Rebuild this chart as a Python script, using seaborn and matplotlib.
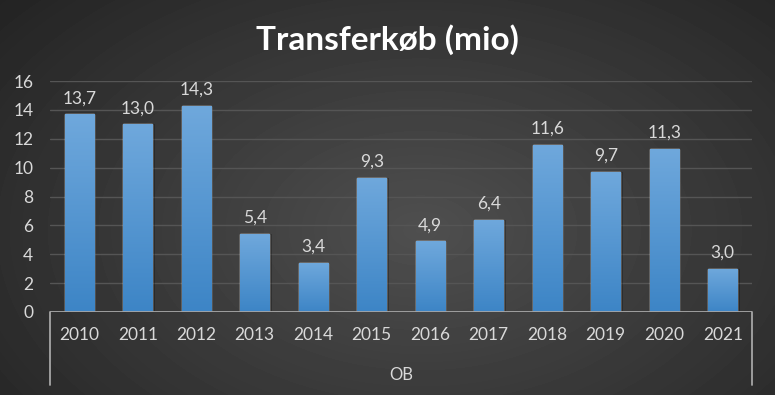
import numpy as np
import pandas as pd
import seaborn as sns
import matplotlib.pyplot as plt
from matplotlib.lines import Line2D
from matplotlib.colors import LinearSegmentedColormap

aar = ["2010", "2011", "2012", "2013", "2014", "2015", "2016", "2017", "2018", "2019", "2020", "2021"]
beloeb = [13.7, 13.0, 14.3, 5.4, 3.4, 9.3, 4.9, 6.4, 11.6, 9.7, 11.3, 3.0]
gruppe = "OB"
titel = "Transferkøb (mio)"

df = pd.DataFrame({"aar": aar, "beloeb": beloeb})

sns.set_theme(style="dark")
plt.rcParams["font.family"] = ["Lato", "DejaVu Sans"]

fig = plt.figure(figsize=(7.75, 3.95), dpi=100)

# baggrund med radial gradient
bg = fig.add_axes([0, 0, 1, 1], zorder=-10)
yy, xx = np.mgrid[0:395, 0:775]
r = np.sqrt(((xx - 420) / 520) ** 2 + ((yy - 230) / 330) ** 2)
val = np.clip(0.31 - 0.16 * r, 0.14, 0.31)
bg.imshow(val, cmap="gray", vmin=0, vmax=1, aspect="auto", extent=[0, 1, 0, 1])
bg.axis("off")

ax = fig.add_axes([50 / 775, 1 - 312 / 395, 702 / 775, 231 / 395])
ax.set_facecolor("none")
sns.barplot(data=df, x="aar", y="beloeb", color="#5b9bd5", width=0.5, ax=ax, zorder=3)

# gradient i søjlerne
grad = np.linspace(0, 1, 100).reshape(-1, 1)
cm = LinearSegmentedColormap.from_list("blaa", ["#3d85c6", "#6fa8dc"])
for p in ax.patches:
    x0, w, h = p.get_x(), p.get_width(), p.get_height()
    im = ax.imshow(grad, cmap=cm, aspect="auto", origin="lower",
                   extent=[x0, x0 + w, 0, h], zorder=3)
    im.set_clip_path(p)
    # skygge
    ax.add_patch(plt.Rectangle((x0 + 0.04, 0), w, h, color="black", alpha=0.25, zorder=2, lw=0))

for i, v in enumerate(beloeb):
    ax.text(i, v + 0.55, f"{v:.1f}".replace(".", ","), ha="center", va="bottom",
            color="#d9d9d9", fontsize=12.5, zorder=5)

ax.set_xlim(-0.5, len(aar) - 0.5)
ax.set_ylim(0, 16)
ax.set_yticks(range(0, 17, 2))
ax.grid(axis="y", color="#555555", lw=1, zorder=0)
ax.grid(axis="x", visible=False)
ax.set_xlabel("")
ax.set_ylabel("")
for s in ax.spines.values():
    s.set_visible(False)
ax.tick_params(axis="both", colors="#d9d9d9", labelsize=12.5, length=0)
ax.tick_params(axis="x", pad=11)
ax.tick_params(axis="y", pad=12)

# kategori-akse med gruppe
ax.axhline(0, color="#a6a6a6", lw=1.3, zorder=4)
for xv in [-0.5, len(aar) - 0.5]:
    ax.add_line(Line2D([xv, xv], [0, -73 / 231 * 16], color="#a6a6a6", lw=1.3, clip_on=False))
ax.text((len(aar) - 1) / 2, -63 / 231 * 16, gruppe, ha="center", va="center",
        color="#d9d9d9", fontsize=12)

fig.text(0.5, 1 - 40 / 395, titel, ha="center", va="center", color="white",
         fontsize=24, fontweight="bold")

fig.savefig("out.png", dpi=100)
